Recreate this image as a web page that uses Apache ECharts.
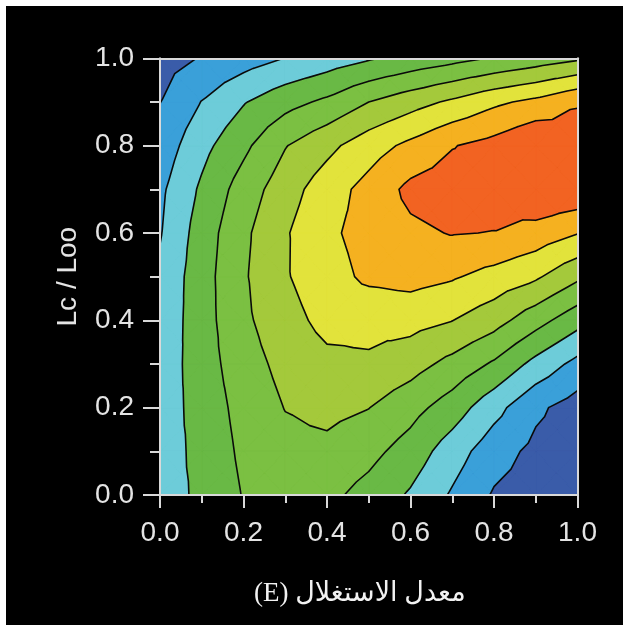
<!DOCTYPE html>
<html><head><meta charset="utf-8">
<script src="https://cdn.jsdelivr.net/npm/echarts/dist/echarts.min.js"></script>
<style>
html,body{margin:0;padding:0;background:#fff;width:623px;height:625px;overflow:hidden}
#bg{position:absolute;left:6px;top:6px;width:617px;height:619px;background:#000}
#chart{position:absolute;left:0;top:0;width:623px;height:625px}
</style></head><body><div id="bg"></div><div id="chart"></div>
<script>
// grid coordinates
const xValues = [0, 0.1, 0.2, 0.3, 0.4, 0.5, 0.6, 0.7, 0.8, 0.9, 1.0];
const yValues = [0, 0.1, 0.2, 0.3, 0.4, 0.5, 0.6, 0.7, 0.8, 0.9, 1.0];
// surface values (contour-band units), one row per y value
const zY00 = [2.55, 3.20, 4.05, 4.30, 4.25, 3.65, 2.88, 1.88, 0.90, 0.55, 0.30];
const zY01 = [2.50, 3.30, 4.20, 4.70, 4.75, 4.30, 3.57, 2.48, 1.42, 0.75, 0.40];
const zY02 = [2.45, 3.42, 4.34, 5.03, 5.28, 5.02, 4.36, 3.52, 2.35, 1.20, 0.55];
const zY03 = [2.40, 3.52, 4.57, 5.30, 5.75, 5.85, 5.40, 4.70, 3.86, 2.69, 1.70];
const zY04 = [2.30, 3.57, 4.80, 5.63, 6.30, 6.30, 6.35, 6.02, 5.40, 4.39, 3.37];
const zY05 = [2.20, 3.58, 4.88, 5.91, 6.61, 7.20, 7.35, 7.10, 6.66, 6.15, 5.20];
const zY06 = [1.93, 3.47, 4.79, 5.90, 6.82, 7.34, 7.80, 8.05, 7.97, 7.60, 7.04];
const zY07 = [1.80, 3.17, 4.45, 5.56, 6.53, 7.34, 8.25, 8.50, 8.50, 8.98, 8.82];
const zY08 = [1.40, 2.69, 3.77, 4.95, 5.73, 6.55, 7.24, 7.95, 8.35, 9.00, 8.60];
const zY09 = [0.98, 2.03, 2.93, 3.65, 4.20, 5.00, 5.60, 6.17, 6.80, 7.25, 7.90];
const zY10 = [0.60, 1.06, 1.54, 2.02, 2.45, 2.90, 3.30, 3.68, 4.07, 4.45, 4.85];
const zGrid = [zY00, zY01, zY02, zY03, zY04, zY05, zY06, zY07, zY08, zY09, zY10];
const contourLevels = [1, 2, 3, 4, 5, 6, 7, 8];
const bandColors = ['#3a5ca9', '#3aa0d9', '#6dccd9', '#69b945', '#7bc042', '#a4c93b', '#e2e33b', '#f5b120', '#f26322'];
const xTickLabels = ['0.0', '0.2', '0.4', '0.6', '0.8', '1.0'];
const yTickLabels = ['0.0', '0.2', '0.4', '0.6', '0.8', '1.0'];
const xAxisName = '\u202Bمعدل الاستغلال (E)\u202C';
const yAxisName = 'Lc / Loo';

function interp(a, b, lv) {
  const f = (lv - a.z) / (b.z - a.z);
  return { x: a.x + f * (b.x - a.x), y: a.y + f * (b.y - a.y), z: lv };
}
function clip(poly, lv, keepAbove) {
  const out = [];
  const inside = p => keepAbove ? p.z >= lv : p.z <= lv;
  for (let k = 0; k < poly.length; k++) {
    const a = poly[k], b = poly[(k + 1) % poly.length];
    const ia = inside(a), ib = inside(b);
    if (ia && ib) out.push(b);
    else if (ia && !ib) out.push(interp(a, b, lv));
    else if (!ia && ib) { out.push(interp(a, b, lv)); out.push(b); }
  }
  return out;
}
function buildTriangles() {
  const tris = [];
  for (let j = 0; j < yValues.length - 1; j++) {
    for (let i = 0; i < xValues.length - 1; i++) {
      const p00 = { x: xValues[i], y: yValues[j], z: zGrid[j][i] };
      const p10 = { x: xValues[i + 1], y: yValues[j], z: zGrid[j][i + 1] };
      const p11 = { x: xValues[i + 1], y: yValues[j + 1], z: zGrid[j + 1][i + 1] };
      const p01 = { x: xValues[i], y: yValues[j + 1], z: zGrid[j + 1][i] };
      const c = { x: (p00.x + p10.x) / 2, y: (p00.y + p01.y) / 2, z: (p00.z + p10.z + p11.z + p01.z) / 4 };
      tris.push([p00, p10, c], [p10, p11, c], [p11, p01, c], [p01, p00, c]);
    }
  }
  return tris;
}
function renderItem(params, api) {
  const children = [];
  const tris = buildTriangles();
  const toPx = p => api.coord([p.x, p.y]);
  const f2 = v => v.toFixed(2);
  for (let b = 0; b < bandColors.length; b++) {
    const lo = b === 0 ? null : contourLevels[b - 1];
    const hi = b === bandColors.length - 1 ? null : contourLevels[b];
    let d = '';
    for (const t of tris) {
      let poly = t;
      if (lo !== null) poly = clip(poly, lo, true);
      if (poly.length < 3) continue;
      if (hi !== null) poly = clip(poly, hi, false);
      if (poly.length < 3) continue;
      poly.forEach((p, k) => { const q = toPx(p); d += (k ? 'L' : 'M') + f2(q[0]) + ' ' + f2(q[1]) + ' '; });
      d += 'Z ';
    }
    if (d) children.push({ type: 'path', silent: true, shape: { pathData: d },
      style: { fill: bandColors[b], stroke: bandColors[b], lineWidth: 0.6 } });
  }
  let ld = '';
  for (const lv of contourLevels) {
    for (const t of tris) {
      const pts = [];
      for (let k = 0; k < 3; k++) {
        const a = t[k], b = t[(k + 1) % 3];
        if ((a.z < lv) !== (b.z < lv)) pts.push(interp(a, b, lv));
      }
      if (pts.length === 2) {
        const A = toPx(pts[0]), B = toPx(pts[1]);
        ld += 'M' + f2(A[0]) + ' ' + f2(A[1]) + ' L' + f2(B[0]) + ' ' + f2(B[1]) + ' ';
      }
    }
  }
  children.push({ type: 'path', silent: true, shape: { pathData: ld },
    style: { fill: null, stroke: '#0a0a0a', lineWidth: 1.6, lineCap: 'round', lineJoin: 'round' } });
  return { type: 'group', children };
}

const axisColor = '#d9d9d9';
const chart = echarts.init(document.getElementById('chart'), null, { renderer: 'canvas' });
chart.setOption({
  backgroundColor: 'transparent',
  animation: false,
  grid: { left: 160, right: 45.5, top: 58.3, bottom: 130, containLabel: false, outerBoundsMode: 'none' },
  xAxis: [{
    type: 'value', min: 0, max: 1, interval: 0.2, z: 10,
    axisLine: { show: true, onZero: false, lineStyle: { color: axisColor, width: 2 } },
    axisTick: { show: true, length: 13, lineStyle: { color: axisColor, width: 2 } },
    minorTick: { show: true, splitNumber: 2, length: 8, lineStyle: { color: axisColor, width: 2 } },
    splitLine: { show: false }, minorSplitLine: { show: false },
    axisLabel: { margin: 24, color: '#e4e4e4', fontSize: 28, fontFamily: 'Liberation Sans',
      formatter: v => xTickLabels[Math.round(v / 0.2)] },
    name: xAxisName, nameLocation: 'middle', nameGap: 85, nameMoveOverlap: false,
    nameTextStyle: { color: '#f2f2f2', fontSize: 27, fontFamily: "'Liberation Serif', 'DejaVu Sans', serif", padding: [0, 18, 0, 0] }
  }, {
    type: 'value', min: 0, max: 1, position: 'top', z: 10,
    axisLine: { show: true, onZero: false, lineStyle: { color: axisColor, width: 2 } },
    axisTick: { show: false }, axisLabel: { show: false }, splitLine: { show: false }
  }],
  yAxis: [{
    type: 'value', min: 0, max: 1, interval: 0.2, z: 10,
    axisLine: { show: true, onZero: false, lineStyle: { color: axisColor, width: 2 } },
    axisTick: { show: true, length: 17, lineStyle: { color: axisColor, width: 2 } },
    minorTick: { show: true, splitNumber: 2, length: 10, lineStyle: { color: axisColor, width: 2 } },
    splitLine: { show: false }, minorSplitLine: { show: false },
    axisLabel: { margin: 26, color: '#e4e4e4', fontSize: 28, fontFamily: 'Liberation Sans',
      formatter: v => yTickLabels[Math.round(v / 0.2)] },
    name: yAxisName, nameLocation: 'middle', nameGap: 78, nameRotate: 90, nameMoveOverlap: false,
    nameTextStyle: { color: '#e4e4e4', fontSize: 28, fontFamily: 'Liberation Sans' }
  }, {
    type: 'value', min: 0, max: 1, position: 'right', z: 10,
    axisLine: { show: true, onZero: false, lineStyle: { color: axisColor, width: 2 } },
    axisTick: { show: false }, axisLabel: { show: false }, splitLine: { show: false }
  }],
  series: [{
    type: 'custom', coordinateSystem: 'cartesian2d', xAxisIndex: 0, yAxisIndex: 0,
    renderItem: renderItem, data: [[0.5, 0.5]], clip: true, silent: true, z: 2
  }]
});
</script></body></html>
